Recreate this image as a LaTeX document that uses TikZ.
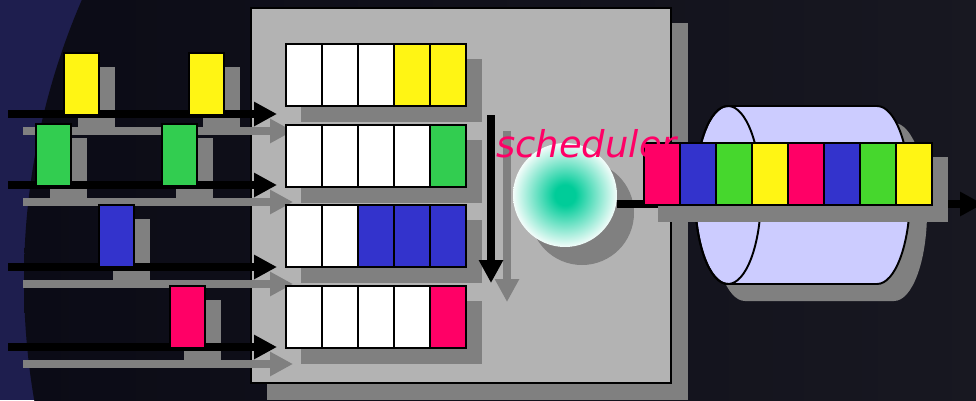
\documentclass[tikz,border=0pt]{standalone}
\usepackage{fontspec}
\usepackage{xcolor}
\usepackage{tikz}
\usetikzlibrary{arrows.meta}

\newfontfamily\schedfont{DejaVu Sans}

\definecolor{bgnavy}{RGB}{30,30,78}
\definecolor{bgdark}{RGB}{11,11,22}
\definecolor{bgdarkr}{RGB}{30,30,38}
\definecolor{boxgray}{RGB}{179,179,179}
\definecolor{shadowgray}{RGB}{128,128,128}
\definecolor{pktyellow}{RGB}{255,245,20}
\definecolor{pktgreen}{RGB}{50,205,80}
\definecolor{linkgreen}{RGB}{70,215,45}
\definecolor{pktblue}{RGB}{51,51,204}
\definecolor{pktpink}{RGB}{255,0,102}
\definecolor{cylfill}{RGB}{204,204,255}
\definecolor{schedgreen}{RGB}{0,204,153}

\pgfdeclareradialshading{schedglow}{\pgfpointorigin}{color(0bp)=(schedgreen); color(5bp)=(schedgreen); color(26bp)=(white); color(50bp)=(white)}

\begin{document}
\begin{tikzpicture}[x=0.02cm, y=-0.02cm,
    cell/.style={draw=black, line width=1.1pt, minimum width=0.72cm, minimum height=1.24cm, inner sep=0pt, anchor=north west},
    pkt/.style={draw=black, line width=1.1pt, minimum width=0.7cm, minimum height=1.24cm, inner sep=0pt, anchor=north west},
    flow/.style={line width=4pt, -{Triangle[width=13pt, length=13pt]}},
    shadeflow/.style={flow, shadowgray}]
    \useasboundingbox (0,0) rectangle (976,400);

    % Background
    \fill[bgnavy] (0,0) rectangle (976,400);
    \begin{scope}
      \clip (0,0) rectangle (976,400);
      \shade[left color=bgdark, right color=bgdarkr] (729,280) circle (705);
    \end{scope}

    % Buffer box
    \fill[shadowgray] (267,23) rectangle (688,400);
    \filldraw[fill=boxgray, line width=1.1pt] (251,8) rectangle (671,383);

    % Flow end points
    \foreach \y [count=\i] in {114,185,267,347} {
      \coordinate (src\i) at (8,\y);
      \coordinate (dst\i) at (277,\y);
    }
    \coordinate (scanA) at (491,115);
    \coordinate (scanB) at (491,283);

    % Shadows
    \foreach \i in {1,...,4}
      \draw[shadeflow] ([shift={(15,17)}]src\i) -- ([shift={(16,17)}]dst\i);
    \foreach \x/\y in {63/52, 188/52, 35/123, 161/123, 98/204, 169/285}
      \fill[shadowgray] (\x+15,\y+15) rectangle +(37,63);
    \foreach \t in {43,124,204,285}
      \fill[shadowgray] (301,\t+16) rectangle (482,\t+79);
    \draw[shadeflow, line width=4.5pt] ([shift={(16,16)}]scanA) -- ([shift={(16,19)}]scanB);
    \fill[shadowgray] (582,213) circle (52);

    % Input flows
    \foreach \i in {1,...,4}
      \draw[flow] (src\i) -- (dst\i);

    % Arriving packets
    \foreach \x/\y/\c [count=\i] in {63/52/pktyellow, 188/52/pktyellow, 35/123/pktgreen, 161/123/pktgreen, 98/204/pktblue, 169/285/pktpink}
      \node[pkt, fill=\c] (pkt\i) at (\x,\y) {};

    % Per-flow queues
    \foreach \t/\cols [count=\r] in {43/{white,white,white,pktyellow,pktyellow}, 124/{white,white,white,white,pktgreen}, 204/{white,white,pktblue,pktblue,pktblue}, 285/{white,white,white,white,pktpink}}
      \foreach \c [count=\k] in \cols
        \node[cell, fill=\c] (q\r-\k) at ({285+36*(\k-1)},\t) {};

    % Scan order
    \draw[flow, line width=4.5pt] (scanA) -- (scanB);

    % Scheduler
    \node[circle, minimum size=2.08cm, inner sep=0pt, shade, shading=schedglow] (sched) at (565,195) {};

    % Output link
    \begin{scope}[shift={(17,17)}]
      \fill[shadowgray] (728,106) -- (877,106) arc[start angle=-90, end angle=90, x radius=33, y radius=89]
        -- (728,284) arc[start angle=90, end angle=270, x radius=33, y radius=89] -- cycle;
    \end{scope}
    \filldraw[fill=cylfill, line width=1.1pt] (728,106) -- (877,106) arc[start angle=-90, end angle=90, x radius=33, y radius=89]
      -- (728,284) arc[start angle=90, end angle=270, x radius=33, y radius=89] -- cycle;
    \draw[line width=1.1pt] (728,195) ellipse [x radius=33, y radius=89];

    \coordinate (out) at (983,204);
    \draw[flow] (sched.east |- out) -- (out);

    % Packets on the link
    \fill[shadowgray] (658,157) rectangle (948,222);
    \foreach \c [count=\k] in {pktpink,pktblue,linkgreen,pktyellow,pktpink,pktblue,linkgreen,pktyellow}
      \node[cell, fill=\c] (t\k) at ({643+36*(\k-1)},142) {};

    % Label
    \node[anchor=base west, inner sep=0pt, text=pktpink, font=\schedfont\itshape\fontsize{21}{25}\selectfont] (schedlabel) at (496,157) {scheduler};
\end{tikzpicture}
\end{document}
